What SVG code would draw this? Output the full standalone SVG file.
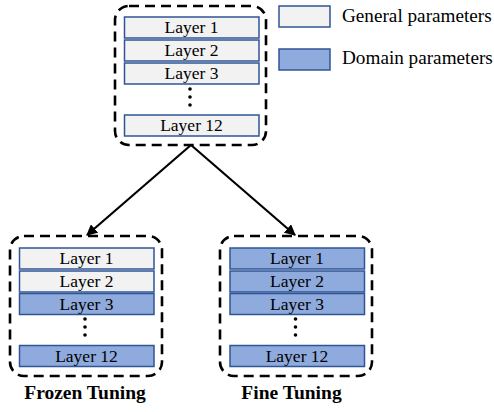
<svg xmlns="http://www.w3.org/2000/svg" width="494" height="412" viewBox="0 0 494 412">
  <style>
    .frame { fill: none; stroke: #000; stroke-width: 2.6; stroke-dasharray: 10 6; }
    .gen { fill: #F2F2F2; stroke: #2F5597; stroke-width: 1.5; }
    .dom { fill: #8FAADC; stroke: #2F5597; stroke-width: 1.5; }
    .lbl { font-family: "Liberation Serif", "Times New Roman", serif; font-size: 17.5px; fill: #000; text-anchor: middle; }
    .leg { font-family: "Liberation Serif", "Times New Roman", serif; font-size: 19.2px; fill: #000; }
    .title { font-family: "Liberation Serif", "Times New Roman", serif; font-size: 19.5px; font-weight: bold; fill: #000; text-anchor: middle; }
    .conn { stroke: #000; stroke-width: 2.2; fill: none; marker-end: url(#arrow); }
  </style>
  <defs>
    <marker id="arrow" viewBox="0 0 10 10" refX="9" refY="5" markerWidth="5" markerHeight="5" orient="auto">
      <path d="M0,0 L10,5 L0,10 z" fill="#000"/>
    </marker>
  </defs>

  <!-- Base model -->
  <g id="base-model">
    <rect class="frame" x="115" y="6" width="151" height="139" rx="14"/>
    <rect class="gen" x="124.5" y="17" width="134.5" height="21"/>
    <text class="lbl" x="191.5" y="33">Layer 1</text>
    <rect class="gen" x="124.5" y="40" width="134.5" height="21"/>
    <text class="lbl" x="191.5" y="56">Layer 2</text>
    <rect class="gen" x="124.5" y="63" width="134.5" height="21"/>
    <text class="lbl" x="191.5" y="79">Layer 3</text>
    <circle cx="190" cy="89" r="1.8"/>
    <circle cx="190" cy="97" r="1.8"/>
    <circle cx="190" cy="105" r="1.8"/>
    <rect class="gen" x="124.5" y="115" width="134.5" height="21"/>
    <text class="lbl" x="191.5" y="131">Layer 12</text>
  </g>

  <!-- Legend -->
  <g id="legend">
    <rect class="gen" x="279" y="6" width="51" height="21"/>
    <text class="leg" x="342" y="21.5">General parameters</text>
    <rect class="dom" x="279" y="49" width="51" height="21"/>
    <text class="leg" x="342" y="63.5">Domain parameters</text>
  </g>

  <!-- Frozen tuning -->
  <g id="frozen-tuning">
    <rect class="frame" x="10" y="236" width="152" height="140" rx="14"/>
    <rect class="gen" x="19.5" y="248" width="134.5" height="21"/>
    <text class="lbl" x="86.5" y="264">Layer 1</text>
    <rect class="gen" x="19.5" y="271" width="134.5" height="21"/>
    <text class="lbl" x="86.5" y="287">Layer 2</text>
    <rect class="dom" x="19.5" y="293.5" width="134.5" height="21"/>
    <text class="lbl" x="86.5" y="309.5">Layer 3</text>
    <circle cx="85" cy="319" r="1.8"/>
    <circle cx="85" cy="327" r="1.8"/>
    <circle cx="85" cy="335" r="1.8"/>
    <rect class="dom" x="19.5" y="345.5" width="134.5" height="21"/>
    <text class="lbl" x="86.5" y="361.5">Layer 12</text>
    <text class="title" x="85" y="399">Frozen Tuning</text>
  </g>

  <!-- Fine tuning -->
  <g id="fine-tuning">
    <rect class="frame" x="220" y="236" width="152" height="140" rx="14"/>
    <rect class="dom" x="230" y="248" width="134.5" height="21"/>
    <text class="lbl" x="297" y="264">Layer 1</text>
    <rect class="dom" x="230" y="271" width="134.5" height="21"/>
    <text class="lbl" x="297" y="287">Layer 2</text>
    <rect class="dom" x="230" y="293.5" width="134.5" height="21"/>
    <text class="lbl" x="297" y="309.5">Layer 3</text>
    <circle cx="295.5" cy="319" r="1.8"/>
    <circle cx="295.5" cy="327" r="1.8"/>
    <circle cx="295.5" cy="335" r="1.8"/>
    <rect class="dom" x="230" y="345.5" width="134.5" height="21"/>
    <text class="lbl" x="297" y="361.5">Layer 12</text>
    <text class="title" x="291.5" y="399">Fine Tuning</text>
  </g>

  <!-- Connectors -->
  <g id="connectors">
    <line class="conn" x1="191" y1="145" x2="87" y2="235"/>
    <line class="conn" x1="191" y1="145" x2="295" y2="235"/>
  </g>
</svg>
